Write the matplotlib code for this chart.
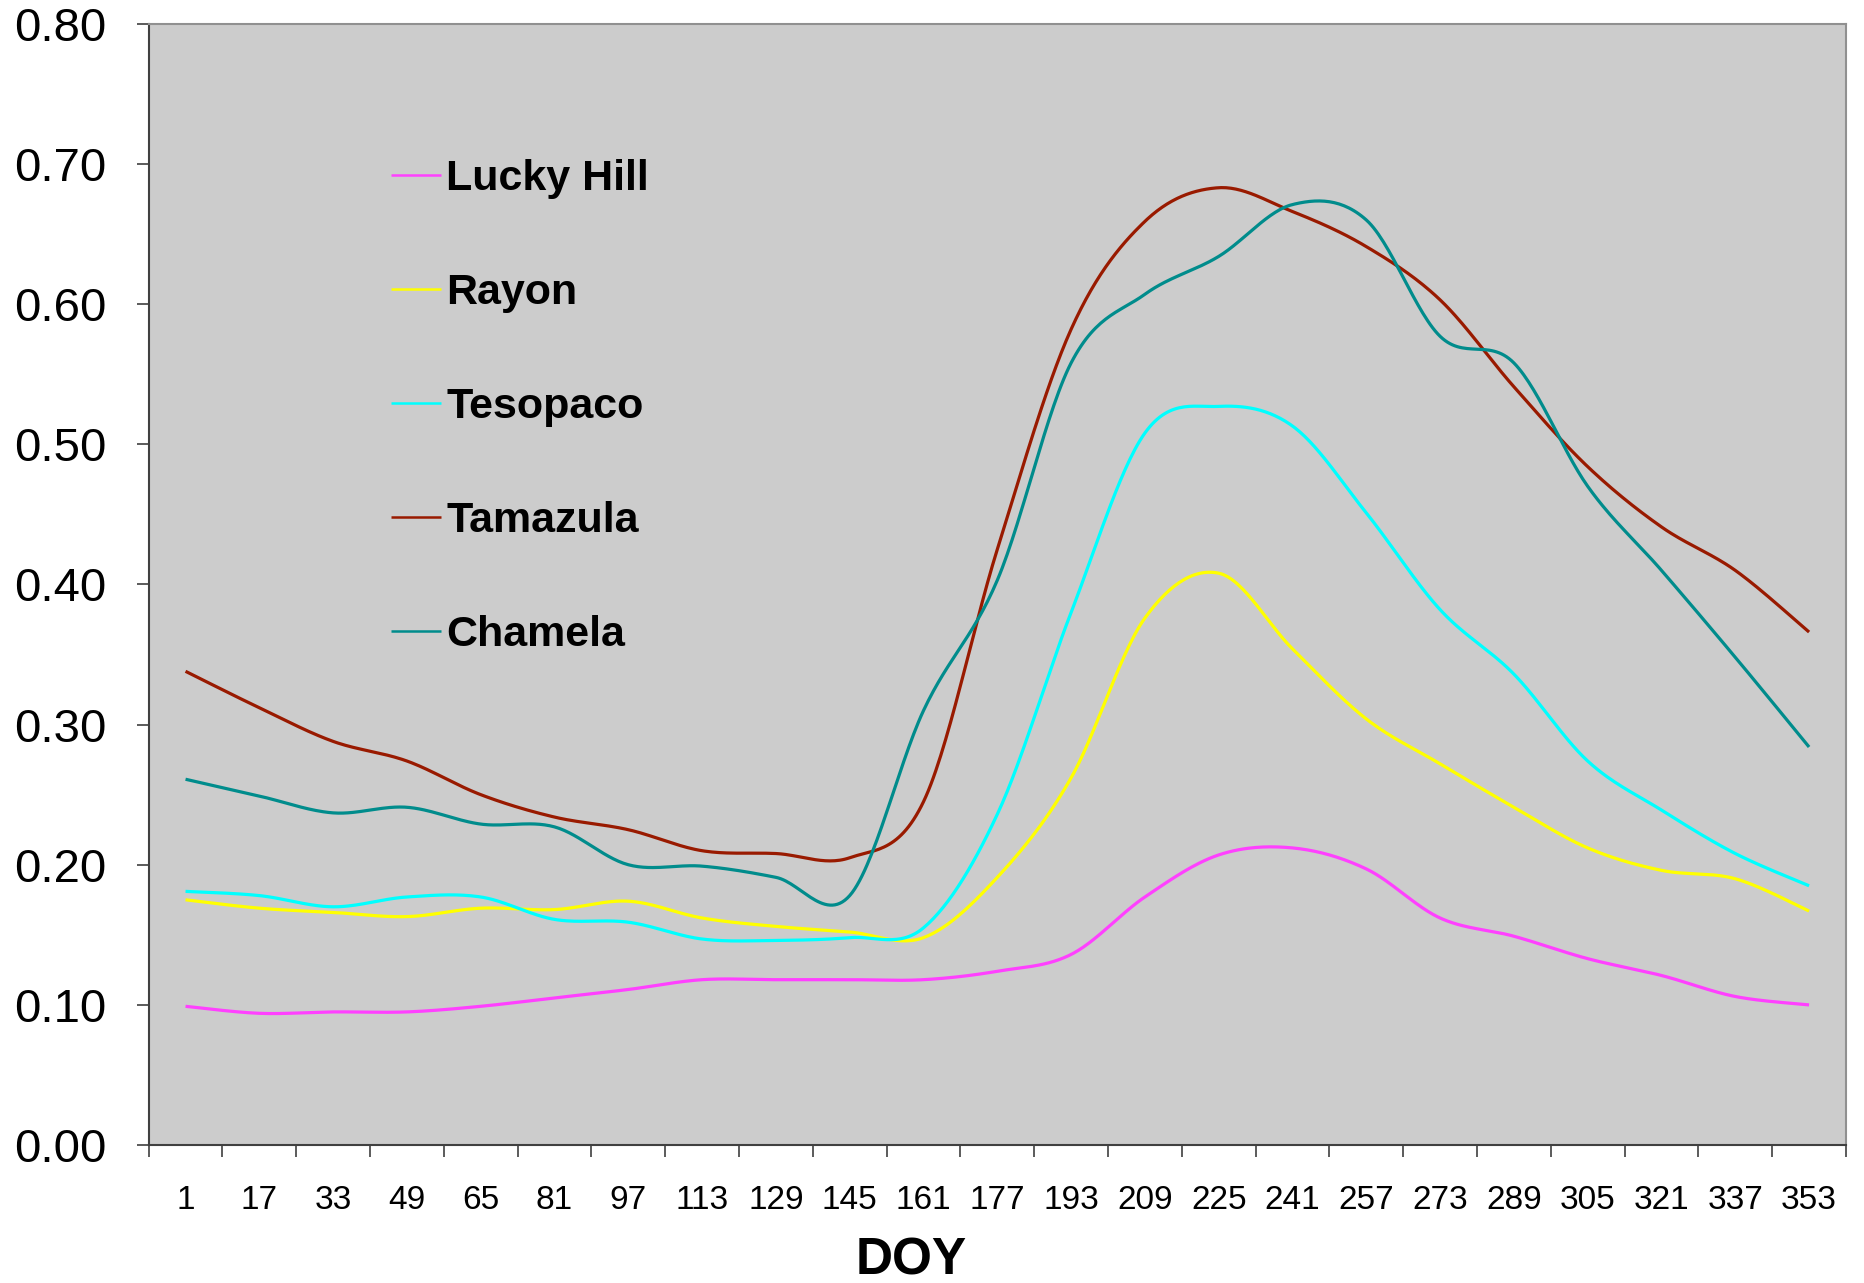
import numpy as np
import matplotlib
matplotlib.use("Agg")
import matplotlib.pyplot as plt
from matplotlib.ticker import FixedLocator, FormatStrFormatter

plt.rcParams['font.family'] = ['Liberation Sans', 'DejaVu Sans']

doy = [1, 17, 33, 49, 65, 81, 97, 113, 129, 145, 161, 177, 193, 209, 225, 241, 257, 273, 289, 305, 321, 337, 353]

lucky_hill = [0.099, 0.094, 0.095, 0.095, 0.099, 0.105, 0.111, 0.118, 0.118, 0.118, 0.118, 0.124,
              0.136, 0.177, 0.207, 0.212, 0.197, 0.162, 0.149, 0.133, 0.121, 0.106, 0.100]
rayon = [0.175, 0.169, 0.166, 0.163, 0.169, 0.168, 0.174, 0.162, 0.156, 0.152, 0.148, 0.191,
         0.262, 0.376, 0.408, 0.354, 0.304, 0.272, 0.241, 0.212, 0.196, 0.190, 0.167]
tesopaco = [0.181, 0.178, 0.170, 0.177, 0.177, 0.161, 0.159, 0.147, 0.146, 0.148, 0.155, 0.236,
            0.380, 0.508, 0.527, 0.513, 0.451, 0.382, 0.336, 0.274, 0.239, 0.208, 0.185]
tamazula = [0.338, 0.312, 0.288, 0.274, 0.250, 0.234, 0.225, 0.210, 0.208, 0.205, 0.245, 0.425,
            0.582, 0.659, 0.683, 0.666, 0.641, 0.603, 0.541, 0.484, 0.441, 0.410, 0.366]
chamela = [0.261, 0.249, 0.237, 0.241, 0.229, 0.227, 0.200, 0.199, 0.191, 0.178, 0.310, 0.403,
           0.558, 0.607, 0.634, 0.671, 0.660, 0.577, 0.558, 0.470, 0.410, 0.348, 0.284]

series_names = ["Lucky Hill", "Rayon", "Tesopaco", "Tamazula", "Chamela"]
series_values = [lucky_hill, rayon, tesopaco, tamazula, chamela]
series_colors = ["#FF40FF", "#FFFF00", "#00FFFF", "#991A00", "#008C8C"]


def smooth(y, n=30):
    """Excel-style smoothed line (Catmull-Rom Bezier through the points)."""
    y = np.asarray(y, float)
    x = np.arange(len(y), dtype=float)
    xs, ys = [], []
    t = np.linspace(0, 1, n, endpoint=False)
    for i in range(len(y) - 1):
        p0 = np.array([x[i], y[i]])
        p3 = np.array([x[i + 1], y[i + 1]])
        pm = np.array([x[i - 1], y[i - 1]]) if i > 0 else p0
        pp = np.array([x[i + 2], y[i + 2]]) if i + 2 < len(y) else p3
        c1 = p0 + (p3 - pm) / 6.0
        c2 = p3 - (pp - p0) / 6.0
        b = ((1 - t) ** 3)[:, None] * p0 + (3 * (1 - t) ** 2 * t)[:, None] * c1 + \
            (3 * (1 - t) * t ** 2)[:, None] * c2 + (t ** 3)[:, None] * p3
        xs.append(b[:, 0]); ys.append(b[:, 1])
    xs.append([x[-1]]); ys.append([y[-1]])
    return np.concatenate(xs), np.concatenate(ys)


fig = plt.figure(figsize=(18.65, 12.83), dpi=100)
fig.patch.set_facecolor("white")
ax = fig.add_axes([0.0797, 0.1075, 0.9898 - 0.0797, 0.9815 - 0.1075])
ax.set_facecolor("#CCCCCC")

for name, vals, col in zip(series_names, series_values, series_colors):
    sx, sy = smooth(vals)
    ax.plot(sx, sy, color=col, lw=2.3, label=name, solid_capstyle='butt')

n = len(doy)
ax.set_xlim(-0.5, n - 0.5)
ax.set_ylim(0, 0.8)

ax.xaxis.set_major_locator(FixedLocator(np.arange(n)))
ax.set_xticklabels([str(d) for d in doy])
ax.xaxis.set_minor_locator(FixedLocator(np.arange(n + 1) - 0.5))
ax.tick_params(axis='x', which='major', length=0, pad=29, labelsize=24)
ax.tick_params(axis='x', which='minor', length=8.6, width=1.2, color='#404040', direction='out')

ax.set_yticks(np.arange(0, 0.81, 0.1))
ax.yaxis.set_major_formatter(FormatStrFormatter('%.2f'))
ax.tick_params(axis='y', which='major', length=8.6, width=1.2, color='#404040', direction='out',
               pad=22, labelsize=34)

for side in ['left', 'bottom']:
    ax.spines[side].set_color('#404040')
    ax.spines[side].set_linewidth(1.5)
for side in ['top', 'right']:
    ax.spines[side].set_color('#909090')
    ax.spines[side].set_linewidth(1.5)

ax.set_xlabel("DOY", fontsize=37, fontweight='bold')
ax.xaxis.set_label_coords(0.449, -0.1151)
ax.xaxis.label.set_va('baseline')

leg = ax.legend(loc='upper left', bbox_to_anchor=(0.143, 0.879), frameon=False,
                prop={'size': 31, 'weight': 'bold'}, handlelength=1.15, handletextpad=0.13,
                labelspacing=1.715, borderpad=0, borderaxespad=0)
for h in leg.get_lines():
    h.set_linewidth(1.8)

fig.savefig("out.png", dpi=100)
